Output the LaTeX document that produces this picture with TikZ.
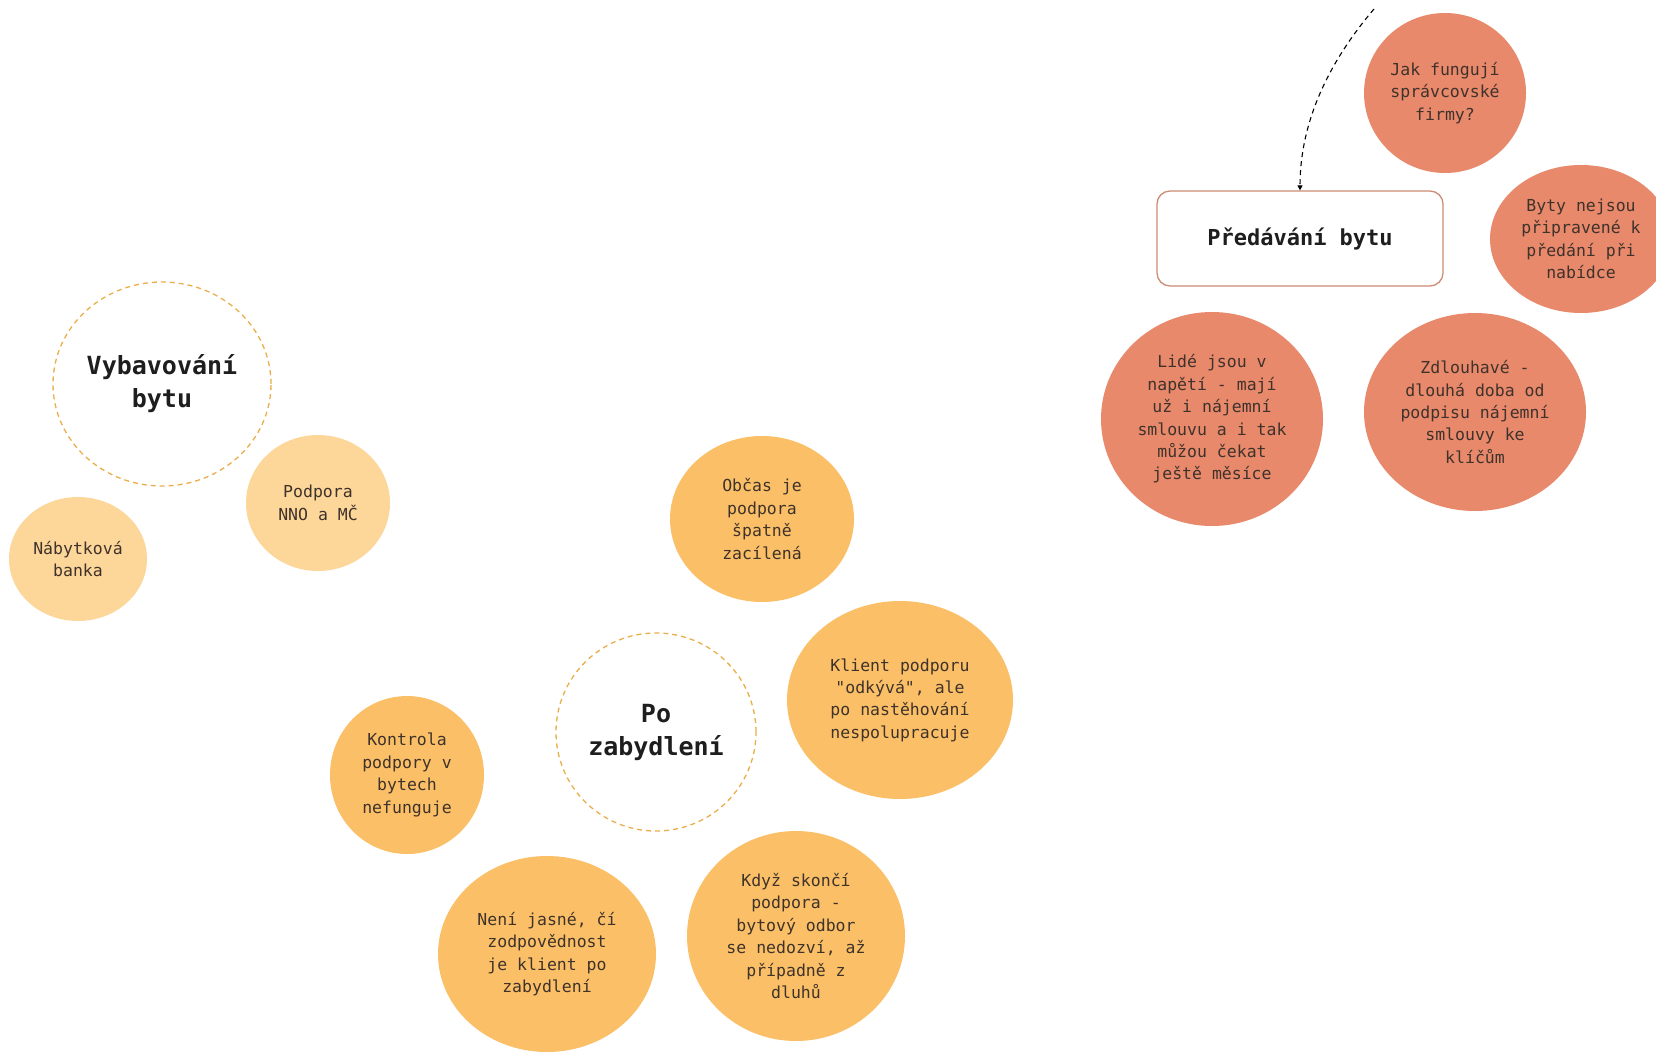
\documentclass[tikz,border=0pt]{standalone}
\usepackage{fontspec}
\usetikzlibrary{shapes.geometric,arrows.meta}
\newfontfamily\monofont{DejaVu Sans Mono}

\definecolor{salmon}{HTML}{E8896C}
\definecolor{amber}{HTML}{FBC067}
\definecolor{pale}{HTML}{FDD699}
\definecolor{inkbody}{HTML}{3E322B}
\definecolor{inktitle}{HTML}{1E1E1E}
\definecolor{dashorange}{HTML}{EAAE4A}
\definecolor{boxline}{HTML}{CC8C74}

\tikzset{
  bubble/.style={ellipse, inner sep=0pt, align=center, text=inkbody,
    font=\monofont\fontsize{16.5}{22.4}\selectfont},
  redbubble/.style={bubble, fill=salmon},
  ambbubble/.style={bubble, fill=amber},
  palebubble/.style={bubble, fill=pale},
  topicring/.style={ellipse, inner sep=0pt, align=center, text=inktitle,
    draw=dashorange, line width=1.3pt, dash pattern=on 5pt off 4pt,
    font=\monofont\bfseries\fontsize{25}{33}\selectfont},
  topicbox/.style={rectangle, rounded corners=13pt, draw=boxline, line width=1.3pt,
    align=center, text=inktitle, minimum width=286pt, minimum height=95pt,
    font=\monofont\bfseries\fontsize{22}{28}\selectfont},
  dashlink/.style={black, line width=1.1pt, dash pattern=on 5pt off 4pt,
    -{Triangle[length=5pt,width=5pt]}}
}

\begin{document}
\begin{tikzpicture}[x=1pt,y=-1pt]
\clip (0,0) rectangle (1656,1052);
\fill[white] (0,0) rectangle (1656,1052);

% --- Predavani bytu cluster ---
\node[topicbox] (handover) at (1300,238.5) {Předávání bytu};
\node[redbubble, minimum width=162pt, minimum height=160pt] (firms) at (1445,93)
  {Jak fungují\\správcovské\\firmy?};
\node[redbubble, minimum width=182pt, minimum height=148pt] (notready) at (1581,239)
  {Byty nejsou\\připravené k\\předání při\\nabídce};
\node[redbubble, minimum width=222pt, minimum height=214pt] (tension) at (1212,419)
  {Lidé jsou v\\napětí - mají\\už i nájemní\\smlouvu a i tak\\můžou čekat\\ještě měsíce};
\node[redbubble, minimum width=222pt, minimum height=198pt] (slow) at (1475,412)
  {Zdlouhavé -\\dlouhá doba od\\podpisu nájemní\\smlouvy ke\\klíčům};

\coordinate (incoming) at (1374,9);
\draw[dashlink] (incoming) .. controls (1322,70) and (1300,130) .. (handover.north);

% --- Vybavovani bytu cluster ---
\node[topicring, minimum width=218pt, minimum height=204pt] (furnish) at (162,384)
  {Vybavování\\bytu};
\node[palebubble, minimum width=144pt, minimum height=136pt] (ngo) at (318,503)
  {Podpora\\NNO a MČ};
\node[palebubble, minimum width=138pt, minimum height=124pt] (bank) at (78,559)
  {Nábytková\\banka};

% --- Po zabydleni cluster ---
\node[topicring, minimum width=200pt, minimum height=198pt] (after) at (656,732)
  {Po\\zabydlení};
\node[ambbubble, minimum width=184pt, minimum height=166pt] (target) at (762,519)
  {Občas je\\podpora\\špatně\\zacílená};
\node[ambbubble, minimum width=226pt, minimum height=198pt] (client) at (900,700)
  {Klient podporu\\"odkývá", ale\\po nastěhování\\nespolupracuje};
\node[ambbubble, minimum width=154pt, minimum height=158pt] (control) at (407,775)
  {Kontrola\\podpory v\\bytech\\nefunguje};
\node[ambbubble, minimum width=218pt, minimum height=196pt] (unclear) at (547,954)
  {Není jasné, čí\\zodpovědnost\\je klient po\\zabydlení};
\node[ambbubble, minimum width=218pt, minimum height=210pt] (ends) at (796,936)
  {Když skončí\\podpora -\\bytový odbor\\se nedozví, až\\případně z\\dluhů};
\end{tikzpicture}
\end{document}
